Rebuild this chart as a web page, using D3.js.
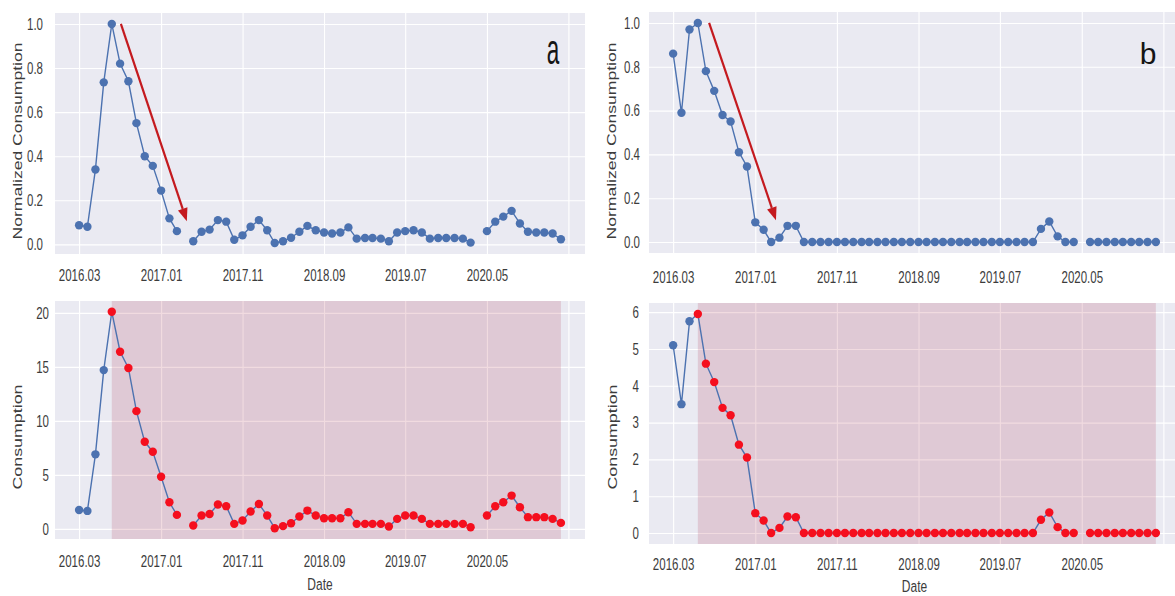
<!DOCTYPE html>
<html>
<head>
<meta charset="utf-8">
<script src="https://cdn.jsdelivr.net/npm/d3@7"></script>
<style>
  body { margin: 0; background: #fff; }
  svg text { font-family: "Liberation Sans", Arial, sans-serif; }
</style>
</head>
<body>
<script>
// Monthly series, 2016.03 .. 2021.02 (null = missing month)
const startMonth = "2016.03";
const endMonth = "2021.02";

// panel a, normalized consumption
const normA = [
  0.087, 0.080, 0.34, 0.735, 1.0, 0.82, 0.74, 0.55, 0.40, 0.356,
  0.244, 0.118, 0.06, null, 0.014, 0.057, 0.067, 0.11, 0.103, 0.021, 0.041, 0.08,
  0.11, 0.064, 0.006, 0.014, 0.03, 0.057, 0.084, 0.064, 0.054, 0.049, 0.054, 0.077,
  0.026, 0.029, 0.029, 0.026, 0.014, 0.054, 0.06, 0.064, 0.054, 0.026, 0.029, 0.029,
  0.029, 0.026, 0.008, null, 0.06, 0.103, 0.126, 0.152, 0.095, 0.057, 0.054, 0.054,
  0.049, 0.023
];
// panel a, consumption
const consA = [
  1.75, 1.66, 6.9, 14.7, 20.1, 16.4, 14.9, 10.9, 8.06, 7.14,
  4.83, 2.46, 1.29, null, 0.31, 1.23, 1.38, 2.25, 2.1, 0.46, 0.77, 1.6,
  2.3, 1.23, 0.06, 0.25, 0.52, 1.14, 1.69, 1.23, 0.98, 0.98, 0.98, 1.54,
  0.46, 0.46, 0.46, 0.46, 0.22, 0.92, 1.23, 1.23, 0.92, 0.46, 0.46, 0.46,
  0.46, 0.46, 0.15, null, 1.23, 2.09, 2.46, 3.08, 2.0, 1.08, 1.08, 1.08,
  0.92, 0.55
];
// panel b, normalized consumption
const normB = [
  0.86, 0.59, 0.97, 1.0, 0.78, 0.69, 0.58, 0.55, 0.41, 0.345,
  0.09, 0.056, 0.0, 0.02, 0.074, 0.074, 0, 0, 0, 0, 0, 0,
  0, 0, 0, 0, 0, 0, 0, 0, 0, 0, 0, 0,
  0, 0, 0, 0, 0, 0, 0, 0, 0, 0, 0, 0.06,
  0.094, 0.026, 0, 0, null, 0, 0, 0, 0, 0, 0, 0,
  0, 0
];
// panel b, consumption
const consB = [
  5.1, 3.5, 5.75, 5.95, 4.6, 4.1, 3.4, 3.2, 2.4, 2.05,
  0.54, 0.34, 0, 0.14, 0.45, 0.43, 0, 0, 0, 0, 0, 0,
  0, 0, 0, 0, 0, 0, 0, 0, 0, 0, 0, 0,
  0, 0, 0, 0, 0, 0, 0, 0, 0, 0, 0, 0.36,
  0.56, 0.16, 0, 0, null, 0, 0, 0, 0, 0, 0, 0,
  0, 0
];

const xTickLabels = ["2016.03", "2017.01", "2017.11", "2018.09", "2019.07", "2020.05"];
const xGridExtra = ["2021.03"];
const yTicksNorm = [0, 0.2, 0.4, 0.6, 0.8, 1.0];
const yTicksConsA = [0, 5, 10, 15, 20];
const yTicksConsB = [0, 1, 2, 3, 4, 5, 6];

// arrow annotations [date, value] start -> tip
const arrowA = [["2016-08-04", 1.0], ["2017-04-07", 0.105]];
const arrowB = [["2016-07-13", 1.0], ["2017-03-19", 0.10]];

const parse = d3.timeParse("%Y.%m");
const months = d3.timeMonth.range(parse(startMonth), d3.timeMonth.offset(parse(endMonth), 1));

const W = 1175, H = 596;
const BLUE = "#4c72b0";
const svg = d3.select("body").append("svg").attr("width", W).attr("height", H);

function pad(ext) {
  const s = ext[1] - ext[0];
  return [ext[0] - 0.05 * s, +ext[1] + 0.05 * s];
}

function panel(p) {
  const xd = pad([+months[0], +months[months.length - 1]]);
  const x = d3.scaleTime().domain(xd.map(d => new Date(d))).range([p.x0, p.x1]);
  const y = d3.scaleLinear().domain(pad(d3.extent(p.values.filter(v => v != null)))).range([p.y1, p.y0]);
  const g = svg.append("g");

  g.append("rect")
    .attr("x", p.x0).attr("y", p.y0)
    .attr("width", p.x1 - p.x0).attr("height", p.y1 - p.y0)
    .attr("fill", "#eaeaf2");

  // grid
  const gridDates = xTickLabels.concat(xGridExtra).map(parse);
  g.append("g")
    .attr("transform", `translate(0,${p.y1})`)
    .call(d3.axisBottom(x).tickValues(gridDates).tickSize(-(p.y1 - p.y0)).tickFormat(""))
    .call(a => a.select(".domain").remove())
    .selectAll("line").attr("stroke", "#fff").attr("stroke-width", 1.1);
  g.append("g")
    .attr("transform", `translate(${p.x0},0)`)
    .call(d3.axisLeft(y).tickValues(p.yTicks).tickSize(-(p.x1 - p.x0)).tickFormat(""))
    .call(a => a.select(".domain").remove())
    .selectAll("line").attr("stroke", "#fff").attr("stroke-width", 1.1);

  const peak = d3.maxIndex(p.values);

  // shaded region from the peak to the last month
  if (p.shade) {
    g.append("rect")
      .attr("x", x(months[peak])).attr("y", p.y0)
      .attr("width", x(months[months.length - 1]) - x(months[peak]))
      .attr("height", p.y1 - p.y0)
      .attr("fill", "rgba(170,40,70,0.17)");
  }

  const line = d3.line()
    .defined(d => d != null)
    .x((d, i) => x(months[i]))
    .y(d => y(d));
  g.append("path")
    .datum(p.values)
    .attr("d", line)
    .attr("fill", "none")
    .attr("stroke", BLUE)
    .attr("stroke-width", 1.4);

  g.selectAll("circle")
    .data(p.values.map((v, i) => ({ v, i })).filter(d => d.v != null))
    .join("circle")
    .attr("cx", d => x(months[d.i]))
    .attr("cy", d => y(d.v))
    .attr("r", 4.2)
    .attr("fill", d => (p.shade && d.i >= peak) ? "#f50f1e" : BLUE);

  // arrow
  if (p.arrow) {
    const [a, b] = p.arrow;
    const x1 = x(new Date(a[0])), y1 = y(a[1]);
    const x2 = x(new Date(b[0])), y2 = y(b[1]);
    const ang = Math.atan2(y2 - y1, x2 - x1);
    const hl = 13, hw = 5;
    const bx = x2 - hl * Math.cos(ang), by = y2 - hl * Math.sin(ang);
    g.append("line")
      .attr("x1", x1).attr("y1", y1).attr("x2", bx).attr("y2", by)
      .attr("stroke", "#c41a1f").attr("stroke-width", 2.2);
    g.append("path")
      .attr("d", `M${x2},${y2}L${bx + hw * Math.sin(ang)},${by - hw * Math.cos(ang)}L${bx - hw * Math.sin(ang)},${by + hw * Math.cos(ang)}Z`)
      .attr("fill", "#c41a1f");
  }

  // x tick labels
  g.append("g")
    .attr("transform", `translate(0,${p.y1})`)
    .call(d3.axisBottom(x).tickValues(xTickLabels.map(parse)).tickFormat(d3.timeFormat("%Y.%m")).tickSize(0))
    .call(a => a.select(".domain").remove())
    .selectAll("text")
    .attr("y", 0).attr("dy", "0.36em")
    .attr("transform", `translate(0,${p.xLabOff}) scale(1,1.5)`)
    .attr("font-family", "Liberation Sans, Arial, sans-serif")
    .attr("font-size", 11.5)
    .attr("fill", "#3c3c3c");

  // y tick labels
  g.append("g")
    .attr("transform", `translate(${p.x0},0)`)
    .call(d3.axisLeft(y).tickValues(p.yTicks).tickFormat(p.yFmt).tickSize(0).tickPadding(p.yPad))
    .call(a => a.select(".domain").remove())
    .selectAll("text")
    .attr("transform", "scale(1,1.45)")
    .attr("font-family", "Liberation Sans, Arial, sans-serif")
    .attr("font-size", 11.5)
    .attr("fill", "#3c3c3c");

  // y title
  g.append("text")
    .attr("transform", `translate(${p.yTitleX},${p.yTitleY}) rotate(-90)`)
    .attr("text-anchor", "middle")
    .attr("dy", "0.35em")
    .attr("font-size", 12)
    .attr("fill", "#3c3c3c")
    .attr("textLength", p.yTitleLen)
    .attr("lengthAdjust", "spacingAndGlyphs")
    .text(p.yTitle);

  if (p.xTitleY) {
    g.append("text")
      .attr("transform", `translate(${(p.x0 + p.x1) / 2},${p.xTitleY}) scale(1,1.45)`)
      .attr("text-anchor", "middle")
      .attr("dy", "0.35em")
      .attr("font-size", 12)
      .attr("fill", "#3c3c3c")
      .text("Date");
  }

  if (p.letter) {
    g.append("text")
      .attr("transform", `translate(${p.letter.x},64) scale(${p.letter.sx},${p.letter.sy})`)
      .attr("text-anchor", "middle")
      .attr("font-size", 30)
      .attr("fill", "#151515")
      .text(p.letter.t);
  }
}

const fmtNorm = d3.format(".1f");
const fmtInt = d3.format("d");

panel({ x0: 55, x1: 585, y0: 13, y1: 254, values: normA, yTicks: yTicksNorm, yFmt: fmtNorm, yPad: 12,
  xLabOff: 21, yTitle: "Normalized Consumption", yTitleX: 17.5, yTitleY: 141, yTitleLen: 197,
  arrow: arrowA, letter: { t: "a", x: 553, sx: 0.75, sy: 1.4 } });
panel({ x0: 55, x1: 585, y0: 301, y1: 539, values: consA, yTicks: yTicksConsA, yFmt: fmtInt, yPad: 6,
  xLabOff: 22, yTitle: "Consumption", yTitleX: 18, yTitleY: 437, yTitleLen: 105, shade: true, xTitleY: 584 });
panel({ x0: 649, x1: 1180, y0: 12, y1: 253, values: normB, yTicks: yTicksNorm, yFmt: fmtNorm, yPad: 9,
  xLabOff: 23.5, yTitle: "Normalized Consumption", yTitleX: 612, yTitleY: 141, yTitleLen: 197,
  arrow: arrowB, letter: { t: "b", x: 1148, sx: 1, sy: 1 } });
panel({ x0: 649, x1: 1180, y0: 303, y1: 544, values: consB, yTicks: yTicksConsB, yFmt: fmtInt, yPad: 10,
  xLabOff: 19.5, yTitle: "Consumption", yTitleX: 613, yTitleY: 437, yTitleLen: 105, shade: true, xTitleY: 586 });
</script>
</body>
</html>
